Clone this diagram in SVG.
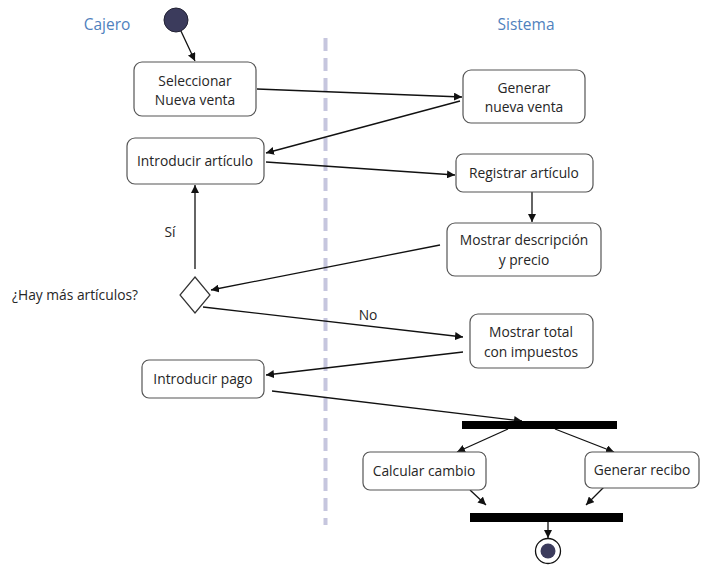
<svg xmlns="http://www.w3.org/2000/svg" width="701" height="565" viewBox="0 0 701 565">
  <style>
    .box { fill: #ffffff; stroke: #555555; stroke-width: 1.2; }
    .lbl { font-family: "Open Sans", "Liberation Sans", Arial, sans-serif; font-size: 13.8px; fill: #262626; text-anchor: middle; }
    .lane { font-family: "Open Sans", "Liberation Sans", Arial, sans-serif; font-size: 15.5px; fill: #4f81bd; text-anchor: middle; }
    .edge { stroke: #111111; stroke-width: 1.3; fill: none; marker-end: url(#arrow); }
    .bar { fill: #000000; }
  </style>
  <defs>
    <marker id="arrow" viewBox="0 0 10 10" refX="10" refY="5" markerWidth="8" markerHeight="8" markerUnits="userSpaceOnUse" orient="auto">
      <path d="M0,0 L10,5 L0,10 z" fill="#111111"/>
    </marker>
  </defs>

  <rect width="701" height="565" fill="#ffffff"/>

  <!-- swimlane headers and divider -->
  <text class="lane" x="107" y="30">Cajero</text>
  <text class="lane" x="526" y="30">Sistema</text>
  <line x1="325.5" y1="38" x2="325.5" y2="525" stroke="#c6c6de" stroke-width="4" stroke-dasharray="13,7"/>

  <!-- connectors -->
  <g id="connectors">
    <line class="edge" x1="180" y1="29" x2="195" y2="61"/>
    <line class="edge" x1="257" y1="89" x2="462" y2="97"/>
    <line class="edge" x1="460" y1="101" x2="266" y2="153"/>
    <line class="edge" x1="266" y1="162" x2="455" y2="175"/>
    <line class="edge" x1="532" y1="192" x2="532" y2="222"/>
    <line class="edge" x1="440" y1="245" x2="211" y2="290"/>
    <line class="edge" x1="203" y1="307" x2="463" y2="337"/>
    <line class="edge" x1="463" y1="352" x2="266" y2="375"/>
    <line class="edge" x1="195" y1="269" x2="195" y2="185"/>
    <line class="edge" x1="272" y1="391" x2="522" y2="421"/>
    <line class="edge" x1="508" y1="429" x2="457" y2="452"/>
    <line class="edge" x1="555" y1="429" x2="614" y2="452"/>
    <line class="edge" x1="470" y1="490" x2="486" y2="505"/>
    <line class="edge" x1="608" y1="483" x2="586" y2="505"/>
    <line class="edge" x1="548" y1="522" x2="548" y2="538"/>
    <text class="lbl" x="170" y="237">Sí</text>
    <text class="lbl" x="368" y="320">No</text>
  </g>

  <!-- initial node -->
  <g id="start">
    <circle cx="176" cy="20" r="12" fill="#3b3b5c" stroke="#222233" stroke-width="1"/>
  </g>

  <g id="seleccionar">
    <rect class="box" x="134" y="62" width="122" height="54" rx="8"/>
    <text class="lbl" x="195" y="86">Seleccionar</text>
    <text class="lbl" x="195" y="105">Nueva venta</text>
  </g>

  <g id="generar-venta">
    <rect class="box" x="463" y="70" width="122" height="53" rx="8"/>
    <text class="lbl" x="524" y="93">Generar</text>
    <text class="lbl" x="524" y="112">nueva venta</text>
  </g>

  <g id="introducir-articulo">
    <rect class="box" x="127" y="138" width="137" height="46" rx="8"/>
    <text class="lbl" x="195" y="166">Introducir artículo</text>
  </g>

  <g id="registrar-articulo">
    <rect class="box" x="456" y="154" width="137" height="38" rx="7"/>
    <text class="lbl" x="524" y="178">Registrar artículo</text>
  </g>

  <g id="mostrar-descripcion">
    <rect class="box" x="447" y="223" width="154" height="53" rx="8"/>
    <text class="lbl" x="524" y="245">Mostrar descripción</text>
    <text class="lbl" x="524" y="265">y precio</text>
  </g>

  <g id="decision">
    <polygon points="195,277 210,295 195,313 180,295" fill="#ffffff" stroke="#333333" stroke-width="1.2"/>
    <text class="lbl" x="75" y="300">¿Hay más artículos?</text>
  </g>

  <g id="mostrar-total">
    <rect class="box" x="470" y="314" width="123" height="54" rx="8"/>
    <text class="lbl" x="531" y="337">Mostrar total</text>
    <text class="lbl" x="531" y="357">con impuestos</text>
  </g>

  <g id="introducir-pago">
    <rect class="box" x="142" y="360" width="122" height="38" rx="7"/>
    <text class="lbl" x="203" y="384">Introducir pago</text>
  </g>

  <g id="fork">
    <rect class="bar" x="462" y="421" width="155" height="8"/>
  </g>

  <g id="calcular-cambio">
    <rect class="box" x="363" y="452" width="123" height="38" rx="7"/>
    <text class="lbl" x="424" y="476">Calcular cambio</text>
  </g>

  <g id="generar-recibo">
    <rect class="box" x="585" y="452" width="114" height="36" rx="7"/>
    <text class="lbl" x="642" y="475">Generar recibo</text>
  </g>

  <g id="join">
    <rect class="bar" x="470" y="513" width="153" height="9"/>
  </g>

  <!-- final node -->
  <g id="end">
    <circle cx="548" cy="551" r="12.5" fill="#ffffff" stroke="#111111" stroke-width="1.3"/>
    <circle cx="548" cy="551" r="7.5" fill="#3b3b5c"/>
  </g>
</svg>
